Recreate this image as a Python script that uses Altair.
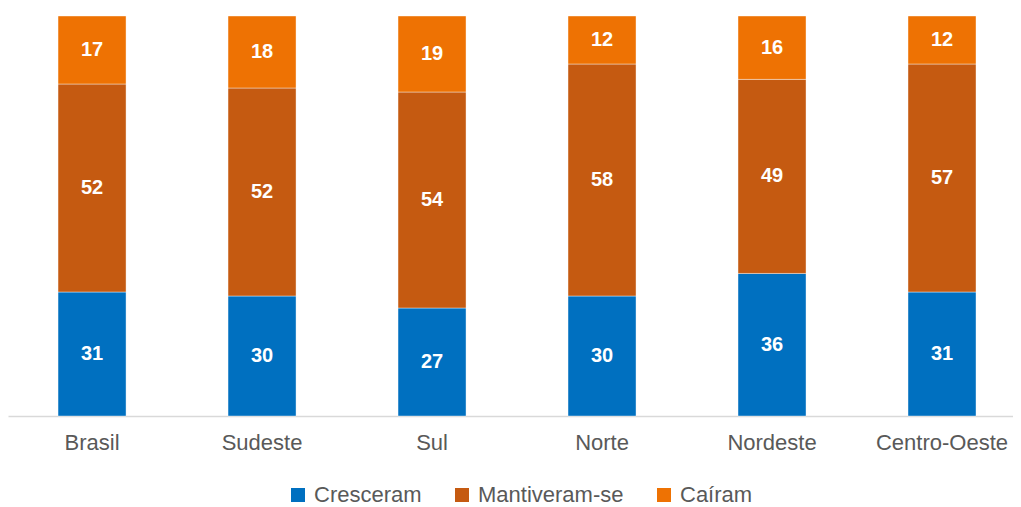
import altair as alt
import pandas as pd

regioes = ["Brasil", "Sudeste", "Sul", "Norte", "Nordeste", "Centro-Oeste"]
series = ["Cresceram", "Mantiveram-se", "Caíram"]
cresceram = [31, 30, 27, 30, 36, 31]
mantiveram = [52, 52, 54, 58, 49, 57]
cairam = [17, 18, 19, 12, 16, 12]
cores = ["#0070C0", "#C55A11", "#EE7203"]

rows = []
for i, r in enumerate(regioes):
    for j, (s, vals) in enumerate(zip(series, [cresceram, mantiveram, cairam])):
        rows.append({"regiao": r, "serie": s, "valor": vals[i], "ordem": j})
df = pd.DataFrame(rows)

base = alt.Chart(df).transform_stack(
    stack="valor", as_=["y0", "y1"], groupby=["regiao"],
    sort=[alt.SortField("ordem")], offset="normalize"
).transform_calculate(mid="(datum.y0 + datum.y1) / 2")

xscale = alt.Scale(paddingInner=0.6, paddingOuter=0.256, align=0.575)
x = alt.X("regiao:N", sort=regioes, title=None, scale=xscale,
          axis=alt.Axis(labelAngle=0, labelFontSize=22, labelColor="#595959",
                        labelFont="Liberation Sans", ticks=False, labelPadding=16,
                        domainColor="#D9D9D9", domainWidth=1.5))
yscale = alt.Scale(domain=[0, 1])

bars = base.mark_bar(stroke="#ffffff", strokeWidth=1, strokeOpacity=0.4).encode(
    x=x,
    y=alt.Y("y0:Q", scale=yscale, axis=None),
    y2="y1:Q",
    color=alt.Color("serie:N", sort=series,
                    scale=alt.Scale(domain=series, range=cores),
                    legend=alt.Legend(title=None, orient="none", direction="horizontal",
                                      legendX=279, legendY=468,
                                      symbolType="square", symbolSize=196,
                                      symbolStrokeWidth=0, labelFontSize=22,
                                      labelFont="Liberation Sans",
                                      labelColor="#595959", labelOffset=5,
                                      columnPadding=29)),
)

labels = base.mark_text(color="white", fontWeight="bold", fontSize=20,
                        font="Liberation Sans", baseline="middle").encode(
    x=alt.X("regiao:N", sort=regioes, scale=xscale),
    y=alt.Y("mid:Q", scale=yscale),
    text=alt.Text("valor:Q", format=".0f"),
)

chart = alt.layer(bars, labels).properties(
    width=1005, height=400,
    padding={"left": 0, "top": 7, "right": 0, "bottom": 4},
).configure_view(stroke=None)

chart.save("out.html", embed_options={"renderer": "svg", "actions": False})
